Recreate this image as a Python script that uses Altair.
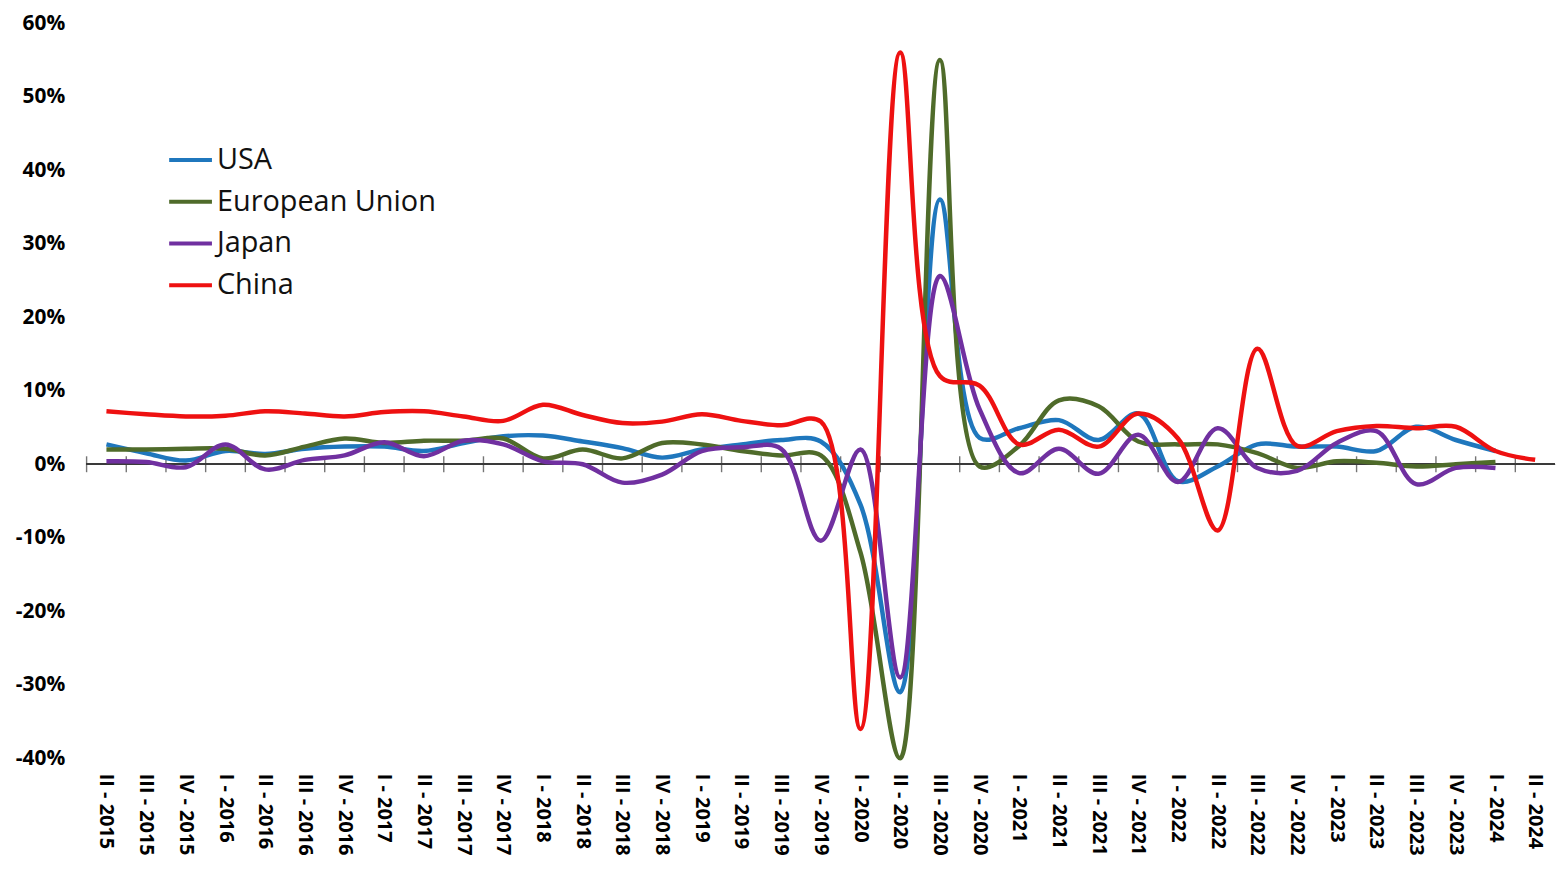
import altair as alt
import pandas as pd

quarters = ["II", "III", "IV", "I", "II", "III", "IV", "I", "II", "III", "IV", "I",
            "II", "III", "IV", "I", "II", "III", "IV", "I", "II", "III", "IV", "I",
            "II", "III", "IV", "I", "II", "III", "IV", "I", "II", "III", "IV", "I", "II"]
years = [2015, 2015, 2015, 2016, 2016, 2016, 2016, 2017, 2017, 2017, 2017, 2018,
         2018, 2018, 2018, 2019, 2019, 2019, 2019, 2020, 2020, 2020, 2020, 2021,
         2021, 2021, 2021, 2022, 2022, 2022, 2022, 2023, 2023, 2023, 2023, 2024, 2024]
categories = [f"{q} - {y}" for q, y in zip(quarters, years)]

countries = ["USA", "European Union", "Japan", "China"]
colors = ["#1F77BD", "#4F6B2A", "#7030A0", "#EE1111"]

usa = [2.7, 1.5, 0.5, 1.8, 1.4, 2.1, 2.4, 2.4, 1.8, 2.9, 3.8, 3.9, 3.1, 2.2, 0.9, 2.0,
       2.7, 3.3, 3.1, -5.5, -31.0, 36.0, 3.6, 4.9, 6.0, 3.3, 6.9, -2.3, -0.3, 2.7,
       2.4, 2.4, 1.8, 5.1, 3.3, 1.8]
eu = [2.0, 2.0, 2.1, 2.1, 1.2, 2.4, 3.5, 2.9, 3.2, 3.2, 3.5, 0.8, 2.0, 0.8, 2.9, 2.7,
      1.8, 1.2, 1.2, -12.0, -40.0, 55.0, -0.3, 2.5, 8.7, 7.9, 3.1, 2.7, 2.7, 1.5,
      -0.5, 0.4, 0.2, -0.3, 0.0, 0.3]
japan = [0.4, 0.3, -0.4, 2.7, -0.7, 0.6, 1.2, 3.0, 1.1, 3.2, 2.7, 0.4, 0.0, -2.5, -1.4,
         1.8, 2.3, 2.1, -10.4, 2.0, -29.0, 25.6, 7.5, -1.2, 2.1, -1.3, 4.0, -2.4, 4.9,
         -0.5, -0.9, 2.9, 4.5, -2.7, -0.5, -0.5]
china = [7.2, 6.8, 6.5, 6.6, 7.2, 6.9, 6.5, 7.1, 7.2, 6.5, 5.9, 8.1, 6.7, 5.6, 5.8, 6.8,
         5.9, 5.3, 5.8, -36.0, 56.0, 12.0, 10.7, 2.7, 4.7, 2.4, 6.9, 3.5, -9.0, 15.7,
         2.5, 4.5, 5.2, 4.9, 5.1, 1.8, 0.6]

y_ticks = [-40, -30, -20, -10, 0, 10, 20, 30, 40, 50, 60]

rows = []
for name, series in zip(countries, [usa, eu, japan, china]):
    for cat, v in zip(categories, series):
        rows.append({"cat": cat, "country": name, "value": v})
df = pd.DataFrame(rows)
ticks_df = pd.DataFrame({"cat": categories})

FONT = "Open Sans"
xscale = alt.Scale(type="band", domain=categories, paddingInner=0, paddingOuter=0)
yscale = alt.Scale(domain=[-40, 60], nice=False, zero=False)

x_axis = alt.Axis(title=None, labelAngle=90, labelFont=FONT, labelFontWeight="bold",
                  labelFontSize=20, labelColor="#000000", labelPadding=15,
                  domain=False, ticks=False, grid=False, labelOverlap=False,
                  labelAlign="left", labelBaseline="middle")
y_axis = alt.Axis(title=None, values=y_ticks, labelExpr="datum.value + '%'",
                  labelFont=FONT, labelFontWeight="bold", labelFontSize=21,
                  labelColor="#000000", labelPadding=22, domain=False, ticks=False,
                  grid=False)

zero_rule = alt.Chart(ticks_df).mark_rule(color="#3a3a3a", strokeWidth=1.4).encode(
    y=alt.datum(0, scale=yscale, axis=y_axis)
)

tick_marks = alt.Chart(ticks_df).mark_tick(
    orient="vertical", size=16, thickness=1.4, color="#3a3a3a"
).encode(
    x=alt.X("cat:N", sort=categories, scale=xscale, axis=x_axis, bandPosition=0),
    y=alt.datum(0),
)

lines = alt.Chart(df).mark_line(interpolate="catmull-rom", strokeWidth=4.5).encode(
    x=alt.X("cat:N", sort=categories, scale=xscale, axis=x_axis, bandPosition=0.5),
    y=alt.Y("value:Q", scale=yscale, axis=y_axis),
    color=alt.Color(
        "country:N",
        sort=countries,
        scale=alt.Scale(domain=countries, range=colors),
        legend=alt.Legend(
            title=None, orient="none", legendX=81, legendY=114,
            symbolType="stroke", symbolStrokeWidth=4, symbolSize=1849,
            labelFont=FONT, labelFontSize=29, labelColor="#111111",
            labelOffset=3, rowPadding=3, padding=0, labelLimit=0,
        ),
    ),
    detail="country:N",
)

chart = alt.layer(zero_rule, tick_marks, lines).properties(
    width=1476, height=739,
    autosize=alt.AutoSizeParams(type="none"),
    padding={"left": 79, "top": 13, "right": 1, "bottom": 102},
).configure_view(stroke=None)

chart.save("out.html", embed_options={"renderer": "svg", "actions": False})
